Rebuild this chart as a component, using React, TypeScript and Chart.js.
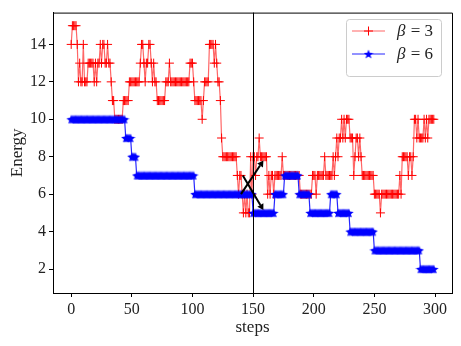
import React, { useEffect, useRef } from "react";
import { Chart, registerables } from "chart.js";
Chart.register(...registerables);

// ---- data ----
const energyBeta3: number[] = [
  14, 15, 15, 15, 15, 14, 12, 13, 12, 12,
  14, 12, 12, 12, 13, 13, 13, 13, 13, 12,
  13, 12, 13, 13, 14, 13, 14, 14, 13, 13,
  14, 13, 13, 12, 11, 11, 10, 10, 10, 10,
  10, 10, 10, 11, 11, 11, 11, 11, 12, 12,
  12, 12, 12, 12, 12, 12, 12, 13, 14, 14,
  13, 12, 13, 13, 14, 14, 13, 12, 13, 12,
  12, 11, 11, 11, 11, 11, 11, 11, 12, 12,
  12, 13, 12, 12, 12, 12, 12, 12, 12, 12,
  12, 12, 12, 12, 12, 12, 12, 12, 13, 13,
  13, 12, 11, 11, 11, 11, 11, 11, 10, 11,
  12, 12, 12, 12, 14, 14, 14, 14, 13, 14,
  13, 12, 12, 11, 9, 8, 8, 8, 8, 8,
  8, 8, 8, 8, 8, 8, 8, 7, 6, 7,
  7, 6, 5, 6, 5, 6, 5, 5, 8, 6,
  8, 8, 7, 8, 8, 9, 8, 8, 8, 8,
  8, 8, 6, 7, 6, 7, 7, 6, 7, 7,
  7, 7, 7, 7, 8, 7, 7, 7, 7, 7,
  7, 7, 7, 7, 7, 7, 7, 7, 7, 6,
  6, 6, 6, 6, 6, 6, 6, 6, 6, 7,
  7, 7, 6, 7, 7, 7, 7, 7, 7, 8,
  7, 7, 7, 7, 7, 7, 8, 7, 8, 9,
  8, 9, 9, 10, 9, 10, 9, 10, 10, 10,
  9, 9, 9, 7, 8, 9, 9, 8, 9, 8,
  7, 7, 7, 7, 7, 7, 7, 7, 7, 7,
  6, 6, 6, 6, 6, 5, 6, 6, 6, 6,
  6, 6, 6, 6, 6, 6, 6, 6, 6, 6,
  6, 7, 6, 8, 8, 8, 8, 8, 7, 8,
  8, 7, 8, 10, 10, 9, 10, 9, 9, 9,
  9, 10, 9, 10, 9, 10, 10, 10, 10, 10,
];

const energyBeta6: number[] = [
  10, 10, 10, 10, 10, 10, 10, 10, 10, 10,
  10, 10, 10, 10, 10, 10, 10, 10, 10, 10,
  10, 10, 10, 10, 10, 10, 10, 10, 10, 10,
  10, 10, 10, 10, 10, 10, 10, 10, 10, 10,
  10, 10, 10, 10, 10, 9, 9, 9, 9, 9,
  8, 8, 8, 8, 7, 7, 7, 7, 7, 7,
  7, 7, 7, 7, 7, 7, 7, 7, 7, 7,
  7, 7, 7, 7, 7, 7, 7, 7, 7, 7,
  7, 7, 7, 7, 7, 7, 7, 7, 7, 7,
  7, 7, 7, 7, 7, 7, 7, 7, 7, 7,
  7, 7, 6, 6, 6, 6, 6, 6, 6, 6,
  6, 6, 6, 6, 6, 6, 6, 6, 6, 6,
  6, 6, 6, 6, 6, 6, 6, 6, 6, 6,
  6, 6, 6, 6, 6, 6, 6, 6, 6, 6,
  6, 6, 6, 6, 6, 6, 6, 6, 6, 6,
  5, 5, 5, 5, 5, 5, 5, 5, 5, 5,
  5, 5, 5, 5, 5, 5, 5, 5, 6, 6,
  6, 6, 6, 6, 6, 6, 7, 7, 7, 7,
  7, 7, 7, 7, 7, 7, 7, 7, 6, 6,
  6, 6, 6, 6, 6, 6, 6, 5, 5, 5,
  5, 5, 5, 5, 5, 5, 5, 5, 5, 5,
  5, 5, 5, 5, 6, 6, 6, 6, 6, 6,
  5, 5, 5, 5, 5, 5, 5, 5, 5, 5,
  4, 4, 4, 4, 4, 4, 4, 4, 4, 4,
  4, 4, 4, 4, 4, 4, 4, 4, 4, 4,
  3, 3, 3, 3, 3, 3, 3, 3, 3, 3,
  3, 3, 3, 3, 3, 3, 3, 3, 3, 3,
  3, 3, 3, 3, 3, 3, 3, 3, 3, 3,
  3, 3, 3, 3, 3, 3, 3, 3, 2, 2,
  2, 2, 2, 2, 2, 2, 2, 2, 2, 2,
];

const seriesLabels = ["3", "6"]; // beta values
const xTickValues = [0, 50, 100, 150, 200, 250, 300];
const yTickValues = [2, 4, 6, 8, 10, 12, 14];
const markerStep = 150;
const arrowStartX = [140, 141.5];
const arrowStartY = [6.0, 7.0];
const arrowEndX = [158.5, 158.5];
const arrowEndY = [7.8, 5.15];
const xTitle = "steps";
const yTitle = "Energy";

const FONT = "'Liberation Serif', 'Times New Roman', serif";
const RED_LINE = "rgba(255,0,0,0.6)";
const BLUE_LINE = "rgba(0,0,255,0.85)";

function makeStar(size: number, color: string): HTMLCanvasElement {
  const c = document.createElement("canvas");
  c.width = size;
  c.height = size;
  const ctx = c.getContext("2d")!;
  ctx.fillStyle = color;
  ctx.beginPath();
  const cx = size / 2, cy = size / 2 + 0.5, R = size / 2, r = R * 0.42;
  for (let i = 0; i < 10; i++) {
    const a = -Math.PI / 2 + (i * Math.PI) / 5;
    const rad = i % 2 === 0 ? R : r;
    ctx.lineTo(cx + rad * Math.cos(a), cy + rad * Math.sin(a));
  }
  ctx.closePath();
  ctx.fill();
  return c;
}

function drawArrow(ctx: CanvasRenderingContext2D, x0: number, y0: number, x1: number, y1: number) {
  const ang = Math.atan2(y1 - y0, x1 - x0);
  const hl = 6, hw = 3.5;
  const bx = x1 - hl * Math.cos(ang), by = y1 - hl * Math.sin(ang);
  ctx.beginPath();
  ctx.moveTo(x0, y0);
  ctx.lineTo(bx, by);
  ctx.stroke();
  ctx.beginPath();
  ctx.moveTo(x1, y1);
  ctx.lineTo(bx + hw * Math.sin(ang), by - hw * Math.cos(ang));
  ctx.lineTo(bx - hw * Math.sin(ang), by + hw * Math.cos(ang));
  ctx.closePath();
  ctx.fill();
}

export default function App() {
  const ref = useRef<HTMLCanvasElement | null>(null);
  useEffect(() => {
    document.body.style.margin = "0";
    const canvas = ref.current!;
    const star = makeStar(10, "#0000ff");

    const overlay = {
      id: "overlay",
      afterDatasetsDraw(chart: any) {
        const { ctx, chartArea: a, scales } = chart;
        const xs = scales.x, ys = scales.y;
        ctx.save();
        // vertical marker line
        ctx.strokeStyle = "#000";
        ctx.lineWidth = 1;
        const vx = Math.round(xs.getPixelForValue(markerStep)) + 0.5;
        ctx.beginPath();
        ctx.moveTo(vx, a.top);
        ctx.lineTo(vx, a.bottom);
        ctx.stroke();
        // arrows
        ctx.lineWidth = 2;
        ctx.fillStyle = "#000";
        for (let i = 0; i < arrowStartX.length; i++) {
          drawArrow(
            ctx,
            xs.getPixelForValue(arrowStartX[i]), ys.getPixelForValue(arrowStartY[i]),
            xs.getPixelForValue(arrowEndX[i]), ys.getPixelForValue(arrowEndY[i])
          );
        }
        // frame top/right
        ctx.lineWidth = 1;
        ctx.strokeStyle = "#000";
        ctx.beginPath();
        ctx.moveTo(a.left, a.top + 0.5);
        ctx.lineTo(a.right + 0.5, a.top + 0.5);
        ctx.lineTo(a.right + 0.5, a.bottom);
        ctx.stroke();
        // legend
        const lx = 346.5, ly = 19.5, lw = 95, lh = 57;
        ctx.fillStyle = "rgba(255,255,255,0.85)";
        ctx.strokeStyle = "#cccccc";
        ctx.lineWidth = 1;
        ctx.beginPath();
        (ctx as any).roundRect(lx, ly, lw, lh, 3);
        ctx.fill();
        ctx.stroke();
        const rows = [31, 54];
        for (let i = 0; i < 2; i++) {
          const y = rows[i];
          ctx.strokeStyle = i === 0 ? RED_LINE : BLUE_LINE;
          ctx.lineWidth = 1.2;
          ctx.beginPath();
          ctx.moveTo(352, y);
          ctx.lineTo(385, y);
          ctx.stroke();
          if (i === 0) {
            ctx.strokeStyle = "#ff0000";
            ctx.lineWidth = 1;
            ctx.beginPath();
            ctx.moveTo(368.5 - 4.5, y);
            ctx.lineTo(368.5 + 4.5, y);
            ctx.moveTo(368.5, y - 4.5);
            ctx.lineTo(368.5, y + 4.5);
            ctx.stroke();
          } else {
            ctx.drawImage(star, 368.5 - 5, y - 5);
          }
          ctx.fillStyle = "#222";
          ctx.textBaseline = "middle";
          ctx.textAlign = "left";
          ctx.font = `italic 17px ${FONT}`;
          ctx.fillText("β", 397, y + 1);
          const bw = ctx.measureText("β").width;
          ctx.font = `17px ${FONT}`;
          ctx.fillText(" = " + seriesLabels[i], 397 + bw + 1, y + 1);
        }
        ctx.restore();
      },
      afterDraw(chart: any) {
        const { ctx, chartArea: a } = chart;
        ctx.save();
        ctx.fillStyle = "#222";
        ctx.font = `17px ${FONT}`;
        ctx.textAlign = "center";
        ctx.textBaseline = "alphabetic";
        ctx.fillText(xTitle, (a.left + a.right) / 2, 332);
        ctx.translate(22, (a.top + a.bottom) / 2);
        ctx.rotate(-Math.PI / 2);
        ctx.fillText(yTitle, 0, 0);
        ctx.restore();
      },
    };

    const axisCommon = {
      grid: { display: true, drawOnChartArea: false, drawTicks: true, tickLength: 4, color: "#000", tickWidth: 1 },
      border: { display: true, color: "#000", width: 1 },
      ticks: { font: { family: FONT, size: 16 }, color: "#222", padding: 3, maxRotation: 0, autoSkip: false },
    };

    const chart = new Chart(canvas, {
      type: "line",
      data: {
        datasets: [
          {
            label: "β = 6",
            data: energyBeta6.map((y, i) => ({ x: i, y })),
            borderColor: BLUE_LINE,
            borderWidth: 1.2,
            pointStyle: star as any,
            pointRadius: 5,
            pointBackgroundColor: "#0000ff",
            pointBorderColor: "#0000ff",
            order: 0,
          },
          {
            label: "β = 3",
            data: energyBeta3.map((y, i) => ({ x: i, y })),
            borderColor: RED_LINE,
            borderWidth: 1.2,
            pointStyle: "cross",
            pointRadius: 4.5,
            pointBorderWidth: 1,
            pointBorderColor: "#ff0000",
            order: 1,
          },
        ],
      },
      options: {
        animation: false,
        responsive: false,
        maintainAspectRatio: false,
        elements: { line: { tension: 0 } },
        layout: { padding: { top: 11, right: 9, left: 0, bottom: 0 } },
        plugins: { legend: { display: false }, tooltip: { enabled: false } },
        scales: {
          x: {
            type: "linear",
            min: -15,
            max: 314,
            ...axisCommon,
            afterBuildTicks: (s: any) => { s.ticks = xTickValues.map((v) => ({ value: v })); },
            afterFit: (s: any) => { s.height = 53; },
          },
          y: {
            type: "linear",
            min: 0.72,
            max: 15.7,
            ...axisCommon,
            afterBuildTicks: (s: any) => { s.ticks = yTickValues.map((v) => ({ value: v })); },
            afterFit: (s: any) => { s.width = 53; },
          },
        },
      } as any,
      plugins: [overlay],
    });
    return () => chart.destroy();
  }, []);
  return (
    <div style={{ width: 461, height: 346, background: "#fff" }}>
      <canvas ref={ref} width={461} height={346} style={{ display: "block" }} />
    </div>
  );
}
